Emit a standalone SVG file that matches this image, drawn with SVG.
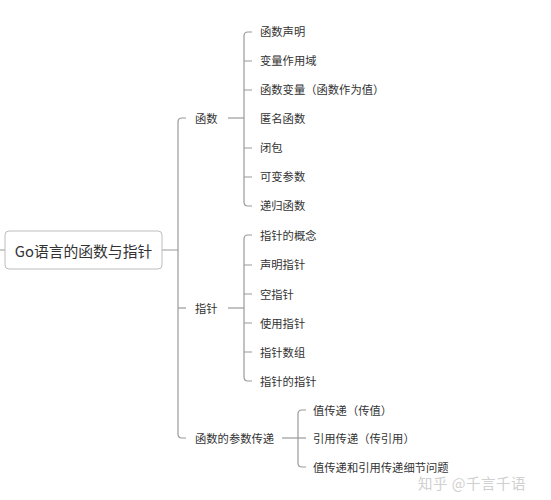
<svg xmlns="http://www.w3.org/2000/svg" width="551" height="500" viewBox="0 0 551 500">
<style>
.t{font-family:"Noto Sans CJK SC","Liberation Sans",sans-serif;font-size:11.3px;fill:#333;dominant-baseline:central}
.r{font-family:"Noto Sans CJK SC","Liberation Sans",sans-serif;font-size:14.8px;fill:#333;dominant-baseline:central}
.l{fill:none;stroke:#9a9a9a;stroke-width:1.2}
.w{font-family:"Noto Sans CJK SC","Liberation Sans",sans-serif;font-size:14.5px;fill:#d0d0d0;letter-spacing:0.5px}
</style>
<rect width="551" height="500" fill="#fff"/>
<g id="connectors">
<path class="l" d="M0 250H5M162 250H178"/>
<path class="l" d="M186 118H182Q178 118 178 122V434Q178 438 182 438H186"/>
<path class="l" d="M178 308H186"/>
<path class="l" d="M228 118H244"/>
<path class="l" d="M252 32H248Q244 32 244 36V202Q244 206 248 206H252M244 61H252M244 90H252M244 148H252M244 177H252"/>
<path class="l" d="M228 308H244"/>
<path class="l" d="M252 235H248Q244 235 244 239V377Q244 381 248 381H252M244 265H252M244 294H252M244 323H252M244 352H252"/>
<path class="l" d="M282 438H306"/>
<path class="l" d="M306 410H302Q298 410 298 414V463Q298 467 302 467H306"/>
</g>
<g id="root"><rect x="5" y="231" width="157" height="38" rx="4" fill="#fff" stroke="#bdbdbd"/><text class="r" x="83.5" y="250" text-anchor="middle">Go语言的函数与指针</text></g>
<g id="n-hanshu"><text class="t" x="195" y="118">函数</text></g>
<g id="n1"><text class="t" x="260" y="31">函数声明</text></g>
<g id="n2"><text class="t" x="260" y="60">变量作用域</text></g>
<g id="n3"><text class="t" x="260" y="89">函数变量（函数作为值）</text></g>
<g id="n4"><text class="t" x="260" y="118">匿名函数</text></g>
<g id="n5"><text class="t" x="260" y="147">闭包</text></g>
<g id="n6"><text class="t" x="260" y="176">可变参数</text></g>
<g id="n7"><text class="t" x="260" y="205">递归函数</text></g>
<g id="n-zhizhen"><text class="t" x="195" y="308">指针</text></g>
<g id="p1"><text class="t" x="260" y="235">指针的概念</text></g>
<g id="p2"><text class="t" x="260" y="264">声明指针</text></g>
<g id="p3"><text class="t" x="260" y="294">空指针</text></g>
<g id="p4"><text class="t" x="260" y="323">使用指针</text></g>
<g id="p5"><text class="t" x="260" y="352">指针数组</text></g>
<g id="p6"><text class="t" x="260" y="381">指针的指针</text></g>
<g id="n-param"><text class="t" x="195" y="438">函数的参数传递</text></g>
<g id="c1"><text class="t" x="313" y="410">值传递（传值）</text></g>
<g id="c2"><text class="t" x="313" y="438">引用传递（传引用）</text></g>
<g id="c3"><text class="t" x="313" y="467">值传递和引用传递细节问题</text></g>
<text class="w" x="418" y="489">知乎 @千言千语</text>
</svg>
